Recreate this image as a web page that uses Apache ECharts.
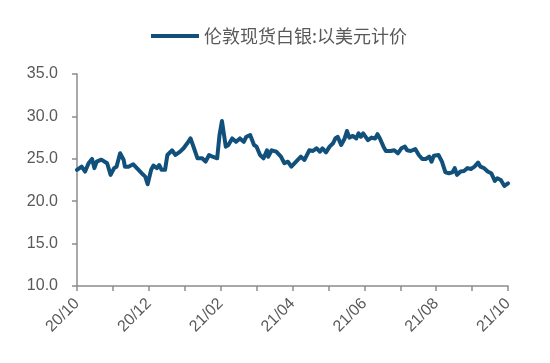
<!DOCTYPE html>
<html>
<head>
<meta charset="utf-8">
<script src="https://cdn.jsdelivr.net/npm/echarts@6/dist/echarts.min.js"></script>
<style>html,body{margin:0;padding:0;background:#fff}#c{width:550px;height:363px}</style>
</head>
<body>
<div id="c"></div>
<script>
var seriesName = '伦敦现货白银:以美元计价';
var monthLabels = ['20/10','20/11','20/12','21/01','21/02','21/03','21/04','21/05','21/06','21/07','21/08','21/09','21/10'];
var dates = [
'2020-10-01','2020-10-05','2020-10-08','2020-10-11','2020-10-14','2020-10-16','2020-10-18','2020-10-22','2020-10-27','2020-10-30',
'2020-11-02','2020-11-04','2020-11-07','2020-11-10','2020-11-11','2020-11-14','2020-11-18','2020-11-21','2020-11-25','2020-11-28','2020-11-30',
'2020-12-03','2020-12-05','2020-12-08','2020-12-10','2020-12-12','2020-12-15','2020-12-17','2020-12-21','2020-12-24','2020-12-28','2020-12-31',
'2021-01-03','2021-01-06','2021-01-09','2021-01-12','2021-01-16','2021-01-19','2021-01-22','2021-01-25','2021-01-29','2021-01-31',
'2021-02-02','2021-02-05','2021-02-07','2021-02-10','2021-02-13','2021-02-16','2021-02-19','2021-02-21','2021-02-24','2021-02-27',
'2021-03-01','2021-03-04','2021-03-07','2021-03-10','2021-03-11','2021-03-14','2021-03-18','2021-03-22','2021-03-25','2021-03-28','2021-03-31',
'2021-04-01','2021-04-04','2021-04-08','2021-04-11','2021-04-15','2021-04-18','2021-04-21','2021-04-24','2021-04-26','2021-04-29',
'2021-05-02','2021-05-05','2021-05-07','2021-05-09','2021-05-12','2021-05-15','2021-05-17','2021-05-19','2021-05-22','2021-05-25','2021-05-27','2021-05-29','2021-05-31',
'2021-06-04','2021-06-07','2021-06-10','2021-06-12','2021-06-14','2021-06-17','2021-06-19','2021-06-23','2021-06-26','2021-06-29',
'2021-07-02','2021-07-05','2021-07-07','2021-07-10','2021-07-14','2021-07-17','2021-07-20','2021-07-23','2021-07-26','2021-07-28','2021-07-30',
'2021-08-03','2021-08-06','2021-08-09','2021-08-12','2021-08-15','2021-08-17','2021-08-19','2021-08-22','2021-08-25','2021-08-28','2021-08-31',
'2021-09-03','2021-09-06','2021-09-08','2021-09-11','2021-09-14','2021-09-17','2021-09-20','2021-09-22','2021-09-25','2021-09-28','2021-09-29','2021-10-01'
];
var values = [
23.7,24.07,23.5,24.47,24.98,23.9,24.66,24.9,24.47,23.1,
23.9,24.07,25.65,24.86,24.07,24.07,24.35,23.9,23.3,22.9,22.0,
23.7,24.2,23.9,24.27,23.7,23.7,25.45,26.0,25.45,25.84,26.24,
26.8,27.4,26.24,25.06,25.06,24.66,25.45,25.25,25.06,27.8,
29.46,26.43,26.63,27.4,27.0,27.4,27.0,27.6,27.8,26.63,
26.43,25.45,25.06,26.0,25.25,26.0,25.84,25.25,24.47,24.66,24.07,
24.27,24.66,25.25,24.86,26.0,25.92,26.24,25.84,26.24,25.76,
26.43,26.83,27.4,27.6,26.63,27.4,28.28,27.5,27.7,27.4,28.0,27.6,28.0,
27.2,27.5,27.4,27.9,27.4,26.43,25.92,25.92,26.0,25.65,
26.24,26.43,26.0,25.92,26.15,25.45,24.98,24.98,25.25,24.66,25.37,
25.45,24.66,23.4,23.3,23.4,23.9,23.1,23.5,23.56,23.9,23.8,
24.07,24.55,24.07,23.9,23.5,23.3,22.4,22.7,22.5,21.8,21.6,22.1
];
var yMin = 10, yMax = 35, yStep = 5;

// Month-based date scale (each month equal width, like a monthly date axis)
function monthPos(s) {
  var p = s.split('-'), y = +p[0], m = +p[1], d = +p[2];
  var dim = new Date(y, m, 0).getDate();
  return (y - 2020) * 12 + (m - 10) + (d - 1) / dim;
}
var data = dates.map(function (d, i) { return [monthPos(d), values[i]]; });

var axisColor = '#8c8c8c', textColor = '#595959';
var chart = echarts.init(document.getElementById('c'));
chart.setOption({
  animation: false,
  backgroundColor: '#fff',
  legend: {
    data: [seriesName],
    left: 146, top: 22,
    icon: 'rect', itemWidth: 48, itemHeight: 4, itemGap: 10,
    textStyle: { fontFamily: 'Noto Sans CJK SC', fontSize: 18, color: textColor }
  },
  grid: { left: 77, right: 42, top: 74, bottom: 77, containLabel: false },
  xAxis: {
    type: 'value', min: 0, max: 12, interval: 1,
    splitLine: { show: false },
    axisLine: { lineStyle: { color: axisColor, width: 1.5 } },
    axisTick: { inside: false, length: 5, lineStyle: { color: axisColor, width: 1.5 } },
    axisLabel: {
      rotate: 45, margin: 15, fontFamily: 'Liberation Sans', fontSize: 16, color: textColor,
      formatter: function (v) { return (v % 2 === 0) ? monthLabels[v] : ''; }
    }
  },
  yAxis: {
    type: 'value', min: yMin, max: yMax, interval: yStep,
    splitLine: { show: false },
    axisLine: { show: true, lineStyle: { color: axisColor, width: 1.5 } },
    axisTick: { show: true, inside: false, length: 5, lineStyle: { color: axisColor, width: 1.5 } },
    axisLabel: { margin: 19, fontFamily: 'Liberation Sans', fontSize: 16, color: textColor,
      formatter: function (v) { return v.toFixed(1); } }
  },
  series: [{
    name: seriesName, type: 'line', data: data, showSymbol: false, symbol: 'none',
    itemStyle: { color: '#11507b' },
    lineStyle: { color: '#11507b', width: 4, join: 'round', cap: 'round' }
  }]
});
</script>
</body>
</html>
